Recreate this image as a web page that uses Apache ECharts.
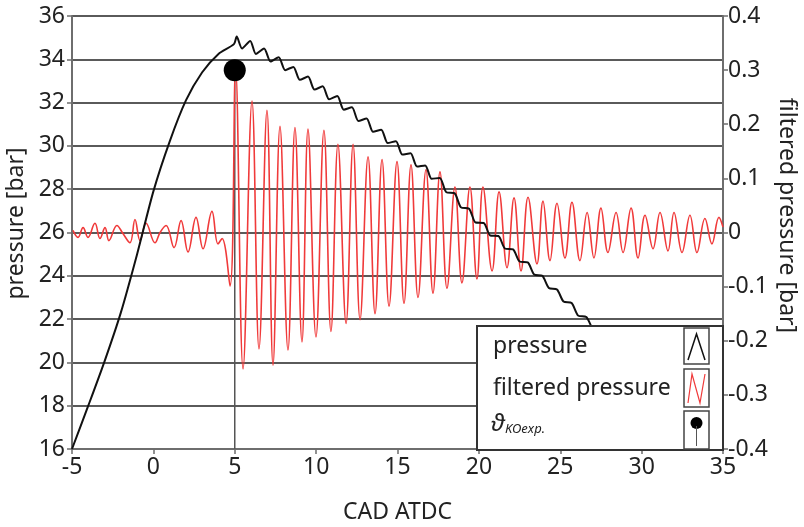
<!DOCTYPE html>
<html>
<head>
<meta charset="utf-8">
<script src="https://cdn.jsdelivr.net/npm/echarts@6/dist/echarts.min.js"></script>
<style>
  html, body { margin: 0; padding: 0; background: #fff; }
  #main { width: 804px; height: 527px; }
</style>
</head>
<body>
<div id="main"></div>
<script>
// pressure [bar] over CAD (left axis)
var pressure = [
  [-5, 16], [-4, 18], [-3, 20.05], [-2, 22.3], [-1, 25.0], [0, 27.9], [1, 30.2],
  [2, 32.1], [3, 33.4], [4, 34.25], [4.95, 34.7], [5.12, 35.05], [5.45, 34.5],
  [5.95, 34.85], [6.3, 34.25], [6.8, 34.5], [7.2, 33.9], [7.7, 34.1], [8.1, 33.5],
  [8.6, 33.65], [9.0, 33.05], [9.5, 33.2], [9.9, 32.6], [10.4, 32.75], [10.8, 32.15],
  [11.3, 32.3], [11.7, 31.67], [12.2, 31.78], [12.6, 31.15], [13.1, 31.27], [13.5, 30.65],
  [14.0, 30.75], [14.4, 30.13], [14.9, 30.22], [15.3, 29.6], [15.8, 29.66], [16.2, 29.05],
  [16.7, 29.1], [17.1, 28.48], [17.6, 28.52], [18.0, 27.86], [18.5, 27.82], [18.9, 27.16],
  [19.4, 27.1], [19.8, 26.46], [20.3, 26.44], [20.7, 25.86], [21.2, 25.84], [21.6, 25.26],
  [22.1, 25.22], [22.5, 24.66], [23.0, 24.62], [23.4, 24.06], [23.9, 24.0], [24.3, 23.44],
  [24.8, 23.37], [25.2, 22.81], [25.7, 22.74], [26.1, 22.16], [26.6, 22.1], [27.0, 21.56],
  [27.5, 21.35], [28, 21.0]
];

// filtered pressure [bar] over CAD (right axis)
var filtered = [
  [-4.94, 0.004], [-4.63, -0.009], [-4.32, 0.009], [-4.02, -0.009], [-3.59, 0.017],
  [-3.28, -0.011], [-2.97, 0.009], [-2.73, -0.015], [-2.24, 0.013], [-1.87, -0.002],
  [-1.44, -0.019], [-1.13, 0.024], [-0.82, -0.015], [-0.45, 0.017], [0.10, -0.019],
  [0.41, 0.0], [0.78, 0.013], [1.27, -0.028], [1.70, 0.022], [2.13, -0.036],
  [2.62, 0.028], [3.05, -0.030], [3.60, 0.039], [3.97, -0.021], [4.22, -0.011],
  [4.71, -0.099], [5.05, 0.303],
  [5.51, -0.252], [6.06, 0.243], [6.49, -0.215], [6.98, 0.226], [7.35, -0.245],
  [7.78, 0.196], [8.27, -0.217], [8.70, 0.194], [9.13, -0.202], [9.50, 0.191],
  [9.99, -0.193], [10.48, 0.189], [10.91, -0.183], [11.34, 0.163], [11.84, -0.168],
  [12.27, 0.163], [12.70, -0.161], [13.19, 0.140], [13.62, -0.150], [14.05, 0.135],
  [14.48, -0.136], [14.97, 0.131], [15.40, -0.131], [15.83, 0.125], [16.26, -0.120],
  [16.75, 0.116], [17.18, -0.112], [17.61, 0.112], [18.04, -0.103], [18.53, 0.084],
  [18.96, -0.093], [19.45, 0.084], [19.88, -0.086], [20.25, 0.084], [20.81, -0.071],
  [21.24, 0.075], [21.73, -0.065], [22.16, 0.064], [22.59, -0.071], [23.02, 0.065],
  [23.57, -0.058], [23.94, 0.058], [24.37, -0.052], [24.80, 0.054], [25.29, -0.047],
  [25.72, 0.056], [26.21, -0.052], [26.65, 0.037], [27.07, -0.047], [27.50, 0.045],
  [27.93, -0.037], [28.43, 0.037], [28.86, -0.037], [29.35, 0.045], [29.78, -0.047],
  [30.21, 0.032], [30.70, -0.030], [31.13, 0.037], [31.62, -0.034], [31.99, 0.037],
  [32.48, -0.037], [32.97, 0.032], [33.40, -0.037], [33.89, 0.026], [34.32, -0.021],
  [34.75, 0.028], [35.0, 0.01]
];

// knock onset point (CAD, pressure)
var koPoint = [5, 33.5];
var koStem = [[5, 16], [5, 33.5]];

var chart = echarts.init(document.getElementById('main'));

var font = 'Noto Sans';
var axisGray = '#6e6e6e';
var txt = '#222';

// legend box drawn as graphic, every piece on top of the series
function onTop(el) { el.z = 100; return el; }

var option = {
  animation: false,
  textStyle: { fontFamily: font },
  grid: { left: 72, right: 81, top: 16, bottom: 78, outerBoundsMode: 'none' },
  xAxis: {
    type: 'value',
    min: -5, max: 35, interval: 5,
    name: 'CAD ATDC',
    nameLocation: 'middle',
    nameGap: 52,
    nameTextStyle: { fontSize: 23, color: txt, fontFamily: font },
    axisLine: { show: true, onZero: false, lineStyle: { color: axisGray, width: 2 } },
    axisTick: { show: true, inside: false, length: 5, lineStyle: { color: axisGray, width: 1.5 } },
    axisLabel: { fontSize: 23, color: txt, margin: 7, fontFamily: font },
    splitLine: { show: false }
  },
  yAxis: [
    {
      type: 'value',
      position: 'left',
      min: 16, max: 36, interval: 2,
      name: 'pressure [bar]',
      nameLocation: 'middle',
      nameRotate: 90,
      nameGap: 40,
      nameTextStyle: { fontSize: 23, color: txt, fontFamily: font, padding: [0, 0, 0, 18] },
      axisLine: { show: true, onZero: false, lineStyle: { color: axisGray, width: 2 } },
      axisTick: { show: true, inside: false, length: 5, lineStyle: { color: axisGray, width: 1.5 } },
      axisLabel: { fontSize: 23, color: txt, margin: 7, fontFamily: font },
      splitLine: { show: true, lineStyle: { color: '#5a5a5a', width: 2 } }
    },
    {
      type: 'value',
      position: 'right',
      min: -0.4, max: 0.4, interval: 0.1,
      name: 'filtered pressure [bar]',
      nameLocation: 'middle',
      nameRotate: -90,
      nameGap: 52,
      nameMoveOverlap: false,
      nameTextStyle: { fontSize: 23, color: txt, fontFamily: font, padding: [0, 34, 0, 0] },
      axisLine: { show: true, onZero: false, lineStyle: { color: axisGray, width: 2 } },
      axisTick: { show: true, inside: false, length: 5, lineStyle: { color: axisGray, width: 1.5 } },
      axisLabel: { fontSize: 23, color: txt, margin: 5, fontFamily: font },
      splitLine: { show: false }
    }
  ],
  series: [
    {
      name: 'stem',
      type: 'line',
      yAxisIndex: 0,
      data: koStem,
      symbol: 'none',
      lineStyle: { color: '#555', width: 1.5 },
      z: 1
    },
    {
      name: 'filtered pressure',
      type: 'line',
      yAxisIndex: 1,
      data: filtered,
      symbol: 'none',
      smooth: 0.4,
      lineStyle: { color: '#f03a3a', width: 1.6 },
      z: 2
    },
    {
      name: 'pressure',
      type: 'line',
      yAxisIndex: 0,
      data: pressure,
      symbol: 'none',
      smooth: 0.25,
      lineStyle: { color: '#111', width: 2 },
      z: 3
    },
    {
      name: 'KO',
      type: 'scatter',
      yAxisIndex: 0,
      data: [koPoint],
      symbol: 'circle',
      symbolSize: 22,
      itemStyle: { color: '#000', opacity: 1 },
      z: 4
    }
  ],
  graphic: [
    {
      type: 'group',
      left: 476, top: 325,
      z: 100,
      children: [
        { type: 'rect', shape: { x: 0, y: 0, width: 246, height: 124 },
          style: { fill: '#fff', stroke: '#333', lineWidth: 2 } },
        { type: 'text', x: 16, y: 9,
          style: { text: 'pressure', fontSize: 23, fill: txt, fontFamily: font } },
        { type: 'text', x: 16, y: 51,
          style: { text: 'filtered pressure', fontSize: 23, fill: txt, fontFamily: font } },
        { type: 'text', x: 14, y: 86,
          style: {
            text: '{a|ϑ}{b|KOexp.}',
            fill: txt,
            rich: {
              a: { fontSize: 24, fontStyle: 'italic', fontFamily: font, fill: txt },
              b: { fontSize: 13, fontStyle: 'italic', fontFamily: font, fill: txt, padding: [10, 0, 0, 0] }
            }
          } },
        // icon boxes
        { type: 'rect', shape: { x: 207, y: 2, width: 25, height: 36 },
          style: { fill: '#fff', stroke: '#444', lineWidth: 1.5 } },
        { type: 'polyline', shape: { points: [[211, 34], [219.5, 8], [228, 34]] },
          style: { stroke: '#111', lineWidth: 1.5, fill: null } },
        { type: 'rect', shape: { x: 207, y: 43, width: 25, height: 38 },
          style: { fill: '#fff', stroke: '#444', lineWidth: 1.5 } },
        { type: 'polyline', shape: { points: [[211, 77], [215, 48], [223, 77], [228, 48]] },
          style: { stroke: '#f03a3a', lineWidth: 1.2, fill: null } },
        { type: 'rect', shape: { x: 207, y: 85, width: 25, height: 38 },
          style: { fill: '#fff', stroke: '#444', lineWidth: 1.5 } },
        { type: 'circle', shape: { cx: 219.5, cy: 97, r: 6 },
          style: { fill: '#000' } },
        { type: 'line', shape: { x1: 219.5, y1: 100, x2: 219.5, y2: 120 },
          style: { stroke: '#555', lineWidth: 1 } }
      ].map(onTop)
    }
  ]
};

chart.setOption(option);
</script>
</body>
</html>
